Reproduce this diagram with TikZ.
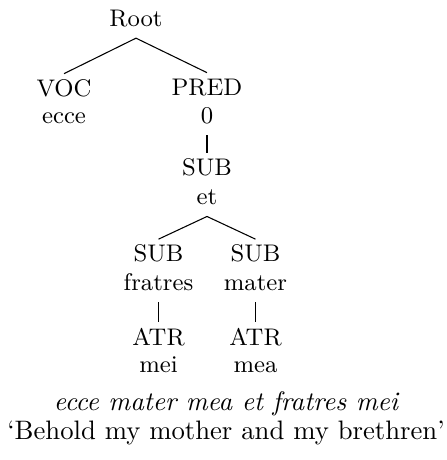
\documentclass[tikz,border=0pt]{standalone}
\begin{document}
\begin{tikzpicture}[x=0.3745pt, y=-0.3745pt,
  lab/.style={font=\fontsize{9}{11}\selectfont, anchor=base,
    text height=6.15pt, text depth=1.9pt, inner xsep=0pt, inner ysep=2.2pt},
  gloss/.style={font=\fontsize{10}{12}\selectfont, anchor=base, inner sep=0pt},
  edge/.style={line width=0.4pt}]
\useasboundingbox (0,0) rectangle (446,460);

% dependency tree: function label above, word below
\node[lab] (root)    at (136,26.7)  {Root};
\node[lab] (voc)     at (64,96.5)   {VOC};
\node[lab] (ecce)    at (64,124)    {ecce};
\node[lab] (pred)    at (207,95.5)  {PRED};
\node[lab] (zero)    at (207,124)   {0};
\node[lab] (sub)     at (207,176)   {SUB};
\node[lab] (et)      at (207,205)   {et};
\node[lab] (subl)    at (158.5,262) {SUB};
\node[lab] (fratres) at (158.5,290.7) {fratres};
\node[lab] (subr)    at (255.5,262) {SUB};
\node[lab] (mater)   at (255.5,290.7) {mater};
\node[lab] (atrl)    at (158.5,345) {ATR};
\node[lab] (mei)     at (158.5,372) {mei};
\node[lab] (atrr)    at (255.5,345) {ATR};
\node[lab] (mea)     at (255.5,372) {mea};

\draw[edge] (voc.north) -- (root.south) -- (pred.north);
\draw[edge] (zero.south) -- (sub.north);
\draw[edge] (subl.north) -- (et.south) -- (subr.north);
\draw[edge] (fratres.south) -- (atrl.north);
\draw[edge] (mater.south) -- (atrr.north);

% sentence and translation
\node[gloss] (latin) at (226,410) {\itshape ecce mater mea et fratres mei};
\node[gloss] (trans) at (226,439) {‘Behold my mother and my brethren’};
\end{tikzpicture}
\end{document}
